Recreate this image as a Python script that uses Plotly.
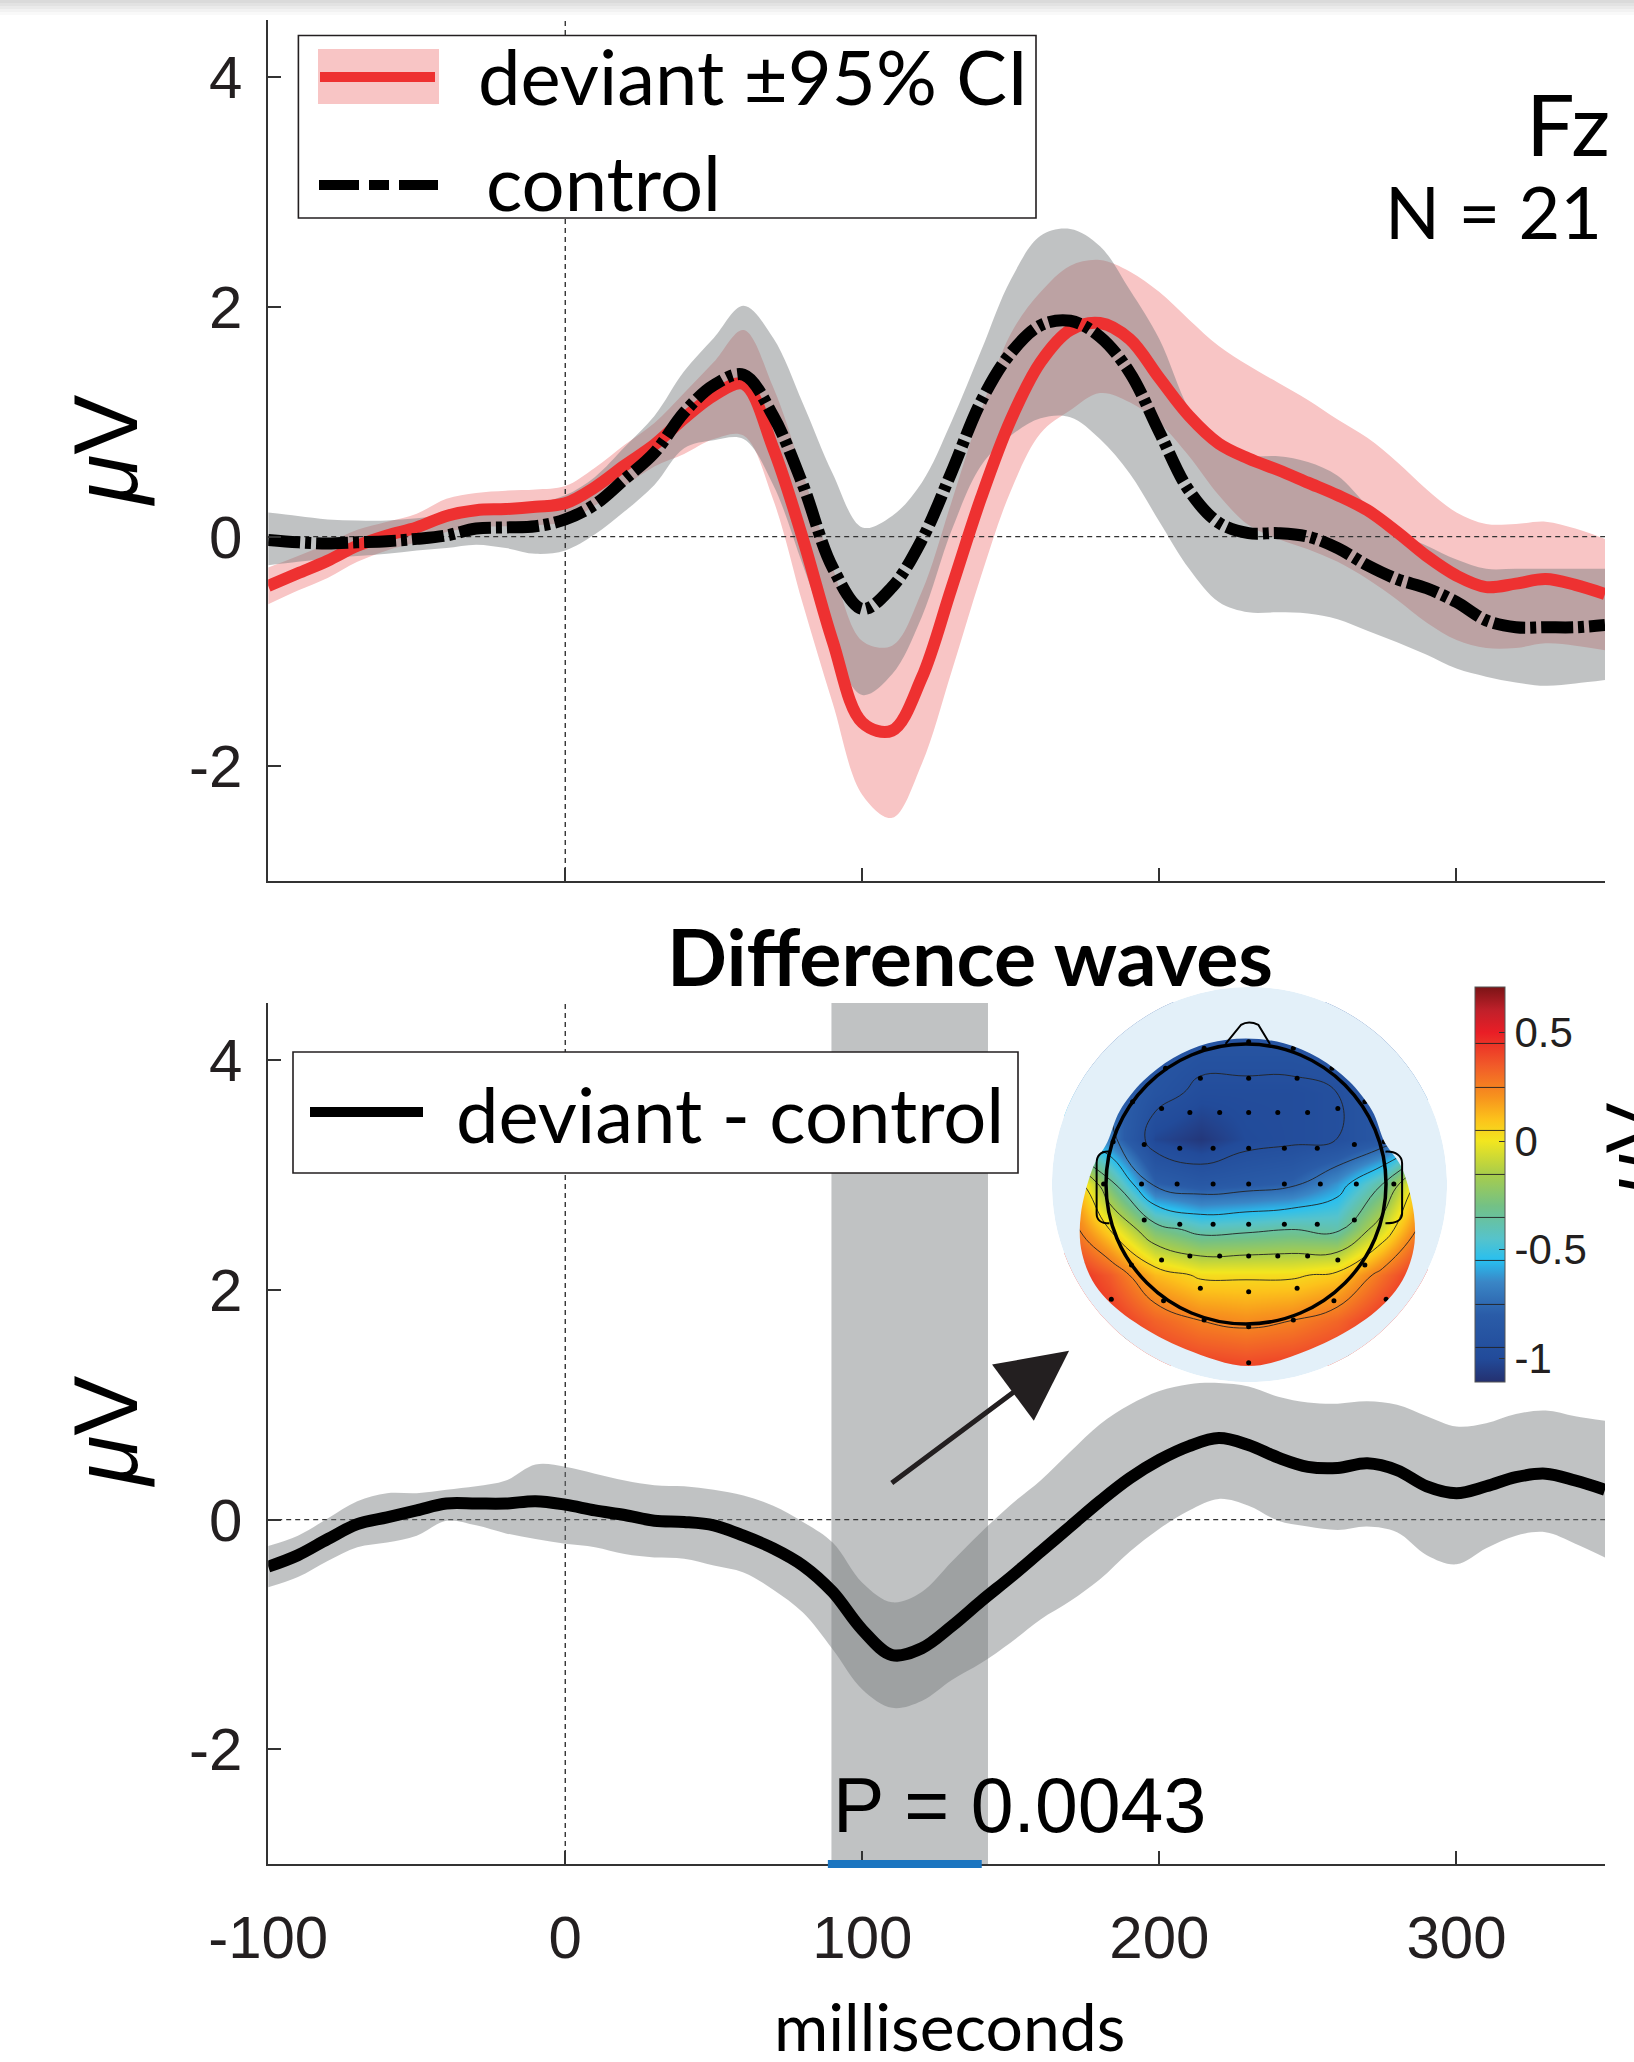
import plotly.graph_objects as go

W, H = 1634, 2062

# ---------------- data ----------------
t_ms = [-100, -90, -80, -70, -60, -50, -40, -30, -20, -10,
        0, 10, 20, 30, 40, 50, 60, 70, 80, 90,
        100, 110, 120, 130, 140, 150, 160, 170, 180, 190,
        200, 210, 220, 230, 240, 250, 260, 270, 280, 290,
        300, 310, 320, 330, 340, 350]

deviant_mean = [-0.43, -0.32, -0.21, -0.08, 0.01, 0.08, 0.18, 0.23, 0.24, 0.26,
                0.29, 0.43, 0.62, 0.80, 1.03, 1.23, 1.33, 0.77, -0.02, -0.91,
                -1.62, -1.69, -1.23, -0.45, 0.34, 1.02, 1.52, 1.80, 1.86, 1.72,
                1.38, 1.05, 0.81, 0.68, 0.58, 0.47, 0.36, 0.23, 0.04, -0.17,
                -0.34, -0.44, -0.41, -0.37, -0.42, -0.50]
deviant_upper = [-0.27, -0.17, -0.06, 0.06, 0.13, 0.20, 0.33, 0.38, 0.40, 0.41,
                 0.44, 0.60, 0.80, 0.99, 1.25, 1.52, 1.80, 1.30, 0.55, -0.27,
                 -0.91, -0.95, -0.48, 0.30, 1.10, 1.77, 2.13, 2.36, 2.41, 2.31,
                 2.13, 1.89, 1.66, 1.49, 1.34, 1.19, 1.02, 0.86, 0.65, 0.41,
                 0.21, 0.11, 0.11, 0.13, 0.07, -0.02]
deviant_lower = [-0.59, -0.47, -0.36, -0.22, -0.12, -0.05, 0.04, 0.08, 0.09, 0.10,
                 0.13, 0.27, 0.44, 0.61, 0.72, 0.85, 0.88, 0.32, -0.59, -1.45,
                 -2.25, -2.45, -1.98, -1.18, -0.34, 0.40, 0.90, 1.10, 1.25, 1.17,
                 0.99, 0.70, 0.36, 0.10, -0.02, -0.11, -0.22, -0.37, -0.55, -0.75,
                 -0.90, -0.97, -0.97, -0.93, -0.95, -0.99]

control_mean = [-0.03, -0.05, -0.06, -0.05, -0.04, -0.02, 0.01, 0.07, 0.08, 0.09,
                0.15, 0.28, 0.50, 0.73, 1.08, 1.32, 1.41, 1.05, 0.45, -0.27,
                -0.63, -0.44, -0.03, 0.56, 1.18, 1.60, 1.84, 1.88, 1.74, 1.43,
                0.91, 0.40, 0.12, 0.03, 0.03, 0.00, -0.10, -0.25, -0.37, -0.45,
                -0.57, -0.73, -0.79, -0.79, -0.79, -0.77]
control_upper = [0.21, 0.18, 0.15, 0.14, 0.14, 0.16, 0.19, 0.24, 0.27, 0.29,
                 0.36, 0.52, 0.78, 1.05, 1.44, 1.73, 2.01, 1.73, 1.16, 0.55,
                 0.08, 0.18, 0.47, 1.00, 1.62, 2.24, 2.62, 2.68, 2.53, 2.15,
                 1.72, 1.11, 0.76, 0.70, 0.70, 0.65, 0.53, 0.27, 0.04, -0.08,
                 -0.20, -0.28, -0.28, -0.28, -0.28, -0.28]
control_lower = [-0.25, -0.22, -0.19, -0.17, -0.15, -0.12, -0.10, -0.07, -0.10, -0.15,
                 -0.12, 0.02, 0.22, 0.45, 0.77, 0.84, 0.85, 0.45, -0.25, -0.95,
                 -1.38, -1.20, -0.70, 0.05, 0.62, 0.88, 1.03, 1.04, 0.85, 0.55,
                 0.13, -0.28, -0.57, -0.66, -0.66, -0.67, -0.72, -0.82, -0.92, -1.03,
                 -1.15, -1.22, -1.27, -1.30, -1.28, -1.25]

diff_mean = [-0.41, -0.31, -0.17, -0.04, 0.02, 0.08, 0.14, 0.14, 0.14, 0.16,
             0.13, 0.08, 0.04, -0.01, -0.02, -0.05, -0.14, -0.25, -0.40, -0.63,
             -0.96, -1.18, -1.12, -0.93, -0.71, -0.50, -0.28, -0.06, 0.16, 0.36,
             0.52, 0.64, 0.71, 0.65, 0.54, 0.46, 0.45, 0.49, 0.43, 0.29,
             0.23, 0.29, 0.37, 0.40, 0.34, 0.26]
diff_upper = [-0.23, -0.14, 0.01, 0.16, 0.23, 0.23, 0.26, 0.29, 0.34, 0.48,
              0.46, 0.40, 0.34, 0.30, 0.29, 0.26, 0.21, 0.12, -0.02, -0.20,
              -0.55, -0.72, -0.63, -0.37, -0.11, 0.13, 0.34, 0.59, 0.83, 1.00,
              1.12, 1.18, 1.19, 1.16, 1.07, 1.02, 1.01, 1.03, 1.00, 0.90,
              0.81, 0.84, 0.92, 0.95, 0.90, 0.86]
diff_lower = [-0.59, -0.50, -0.36, -0.24, -0.20, -0.14, -0.01, -0.05, -0.12, -0.17,
              -0.21, -0.24, -0.30, -0.33, -0.34, -0.40, -0.46, -0.61, -0.81, -1.13,
              -1.48, -1.64, -1.58, -1.40, -1.25, -1.07, -0.87, -0.71, -0.52, -0.28,
              -0.08, 0.08, 0.18, 0.12, -0.01, -0.06, -0.09, -0.06, -0.11, -0.31,
              -0.39, -0.25, -0.14, -0.11, -0.21, -0.33]

shade_window = [89.6, 142.3]      # grey analysis window (ms)
sig_window = [88.4, 140.2]        # significant cluster (blue bar, ms)
p_label = "P = 0.0043"
arrow_from = [109.4, 0.31]        # (ms, µV)
arrow_to = [169.6, 1.47]

x_range = [-100, 350]
y_range = [-3, 4.5]
x_ticks = [-100, 0, 100, 200, 300]
x_tick_text = ["-100", "0", "100", "200", "300"]
y_ticks = [-2, 0, 2, 4]
y_tick_text = ["-2", "0", "2", "4"]

# topography (head coordinates, head radius = 1, nose up)
topo_x = [-1.3, -0.975, -0.65, -0.325, 0.0, 0.325, 0.65, 0.975, 1.3]
topo_y = [-1.3, -0.975, -0.65, -0.325, 0.0, 0.325, 0.65, 0.975, 1.3]
topo_z = [
    [0.55, 0.50, 0.45, 0.42, 0.40, 0.42, 0.45, 0.50, 0.55],      # y=-1.3
    [0.55, 0.45, 0.33, 0.25, 0.22, 0.25, 0.32, 0.45, 0.55],      # y=-0.975
    [0.50, 0.35, 0.12, 0.03, 0.03, 0.03, 0.08, 0.30, 0.50],      # y=-0.65
    [0.35, 0.05, -0.28, -0.40, -0.38, -0.35, -0.38, -0.05, 0.35],  # y=-0.325
    [0.30, -0.30, -0.78, -0.85, -0.82, -0.78, -0.62, -0.35, 0.20],  # y=0
    [-0.50, -0.70, -1.02, -1.08, -1.00, -0.98, -0.95, -0.85, -0.60],  # y=0.325
    [-0.60, -0.75, -0.90, -0.98, -0.98, -0.98, -0.95, -0.85, -0.65],  # y=0.65
    [-0.70, -0.80, -0.85, -0.90, -0.90, -0.90, -0.88, -0.82, -0.70],  # y=0.975
    [-0.70, -0.78, -0.82, -0.85, -0.85, -0.85, -0.83, -0.80, -0.70],  # y=1.3
]
topo_zmin, topo_zmax = -1.11, 0.71
cbar_ticks = [-1, -0.5, 0, 0.5]
cbar_text = ["-1", "-0.5", "0", "0.5"]

elec_x = [-0.326, 0.019, 0.365,
          -0.603, -0.401, -0.188, 0.019, 0.227, 0.44, 0.656,
          -0.727, -0.473, -0.235, 0.019, 0.274, 0.509, 0.774,
          -0.746, -0.492, -0.235, 0.019, 0.274, 0.531, 0.788,
          -0.727, -0.473, -0.235, 0.019, 0.274, 0.509, 0.774,
          -0.603, -0.401, -0.188, 0.019, 0.227, 0.44, 0.656,
          -0.326, 0.019, 0.365,
          -1.17, -0.962, -0.818, -0.589, -0.299, 0.019, 0.338, 0.628, 0.849, 1.001, 1.209, 0.019,
          -0.299, 0.019, 0.338, -0.575, 0.614, -0.81, 0.849, -0.949, 0.987, -1.017, 1.056]
elec_y = [0.755, 0.755, 0.755,
          0.54, 0.51, 0.51, 0.51, 0.51, 0.51, 0.54,
          0.283, 0.255, 0.255, 0.255, 0.255, 0.255, 0.283,
          0.0, 0.0, 0.0, 0.0, 0.0, 0.0, 0.0,
          -0.257, -0.288, -0.288, -0.288, -0.288, -0.288, -0.257,
          -0.543, -0.514, -0.514, -0.514, -0.514, -0.514, -0.543,
          -0.745, -0.769, -0.745,
          -0.571, -0.824, -0.579, -0.834, -0.971, -1.019, -0.971, -0.834, -0.579, -0.824, -0.571, -1.276,
          0.969, 1.016, 0.969, 0.826, 0.826, 0.588, 0.588, 0.302, 0.302, 0.0, 0.0]

# ---------------- styling helpers ----------------
MYR = "Lato, 'Open Sans', sans-serif"
HELV = "'Liberation Sans', Arial, sans-serif"
INK = "#231f20"
RED = "#ee3131"
PINK = "#f8c5c5"
GREY = "rgba(118,122,125,0.46)"
LW = 12


def px(x):
    return x / W


def py(y):
    return 1 - y / H


def circle_path(cx, cy, r):
    k = 0.5523 * r
    return (f"M{cx + r},{cy} C{cx + r},{cy + k} {cx + k},{cy + r} {cx},{cy + r} "
            f"C{cx - k},{cy + r} {cx - r},{cy + k} {cx - r},{cy} "
            f"C{cx - r},{cy - k} {cx - k},{cy - r} {cx},{cy - r} "
            f"C{cx + k},{cy - r} {cx + r},{cy - k} {cx + r},{cy} Z ")


def smooth_closed(pts):
    n = len(pts)
    s = ""
    for i in range(n):
        p0, p1, p2, p3 = pts[i - 1], pts[i], pts[(i + 1) % n], pts[(i + 2) % n]
        c1 = (p1[0] + (p2[0] - p0[0]) / 6, p1[1] + (p2[1] - p0[1]) / 6)
        c2 = (p2[0] - (p3[0] - p1[0]) / 6, p2[1] - (p3[1] - p1[1]) / 6)
        if i == 0:
            s += f"M{p1[0]:.4f},{p1[1]:.4f} "
        s += f"C{c1[0]:.4f},{c1[1]:.4f} {c2[0]:.4f},{c2[1]:.4f} {p2[0]:.4f},{p2[1]:.4f} "
    return s + "Z "


fig = go.Figure()

# ---------------- top panel ----------------
fig.add_trace(go.Scatter(x=t_ms, y=deviant_lower, mode="lines", line=dict(width=0, shape="spline"),
                         xaxis="x", yaxis="y", showlegend=False, hoverinfo="skip"))
fig.add_trace(go.Scatter(x=t_ms, y=deviant_upper, mode="lines", line=dict(width=0, shape="spline"),
                         fill="tonexty", fillcolor=PINK, xaxis="x", yaxis="y", showlegend=False,
                         hoverinfo="skip"))
fig.add_trace(go.Scatter(x=t_ms, y=control_lower, mode="lines", line=dict(width=0, shape="spline"),
                         xaxis="x", yaxis="y", showlegend=False, hoverinfo="skip"))
fig.add_trace(go.Scatter(x=t_ms, y=control_upper, mode="lines", line=dict(width=0, shape="spline"),
                         fill="tonexty", fillcolor=GREY, xaxis="x", yaxis="y", showlegend=False,
                         hoverinfo="skip"))
for ax_x, ax_y in (("x", "y"), ("x2", "y2")):
    fig.add_trace(go.Scatter(x=x_range, y=[0, 0], mode="lines",
                             line=dict(color="#333", width=1.4, dash="5px,4px"),
                             xaxis=ax_x, yaxis=ax_y, showlegend=False, hoverinfo="skip"))
    fig.add_trace(go.Scatter(x=[0, 0], y=y_range, mode="lines",
                             line=dict(color="#333", width=1.4, dash="5px,4px"),
                             xaxis=ax_x, yaxis=ax_y, showlegend=False, hoverinfo="skip"))
fig.add_trace(go.Scatter(x=t_ms, y=deviant_mean, mode="lines",
                         line=dict(color=RED, width=LW, shape="spline"),
                         xaxis="x", yaxis="y", showlegend=False))
fig.add_trace(go.Scatter(x=t_ms, y=control_mean, mode="lines",
                         line=dict(color="black", width=LW, shape="spline", dash="32px,5px,6px,5px"),
                         xaxis="x", yaxis="y", showlegend=False))

# ---------------- bottom panel ----------------
fig.add_trace(go.Scatter(x=t_ms, y=diff_lower, mode="lines", line=dict(width=0, shape="spline"),
                         xaxis="x2", yaxis="y2", showlegend=False, hoverinfo="skip"))
fig.add_trace(go.Scatter(x=t_ms, y=diff_upper, mode="lines", line=dict(width=0, shape="spline"),
                         fill="tonexty", fillcolor=GREY, xaxis="x2", yaxis="y2", showlegend=False,
                         hoverinfo="skip"))
fig.add_trace(go.Scatter(x=t_ms, y=diff_mean, mode="lines",
                         line=dict(color="black", width=LW, shape="spline"),
                         xaxis="x2", yaxis="y2", showlegend=False))

fig.add_shape(type="rect", xref="x2", yref="y2 domain", x0=shade_window[0], x1=shade_window[1],
              y0=0, y1=1, fillcolor=GREY, line=dict(width=0), layer="below")
fig.add_shape(type="line", xref="x2", yref="y2 domain", x0=sig_window[0], x1=sig_window[1],
              y0=0, y1=0, line=dict(color="#1b75c0", width=8), layer="above")

fig.add_annotation(x=arrow_to[0], y=arrow_to[1], ax=arrow_from[0], ay=arrow_from[1],
                   xref="x2", yref="y2", axref="x2", ayref="y2", text="", showarrow=True,
                   arrowhead=2, arrowwidth=5, arrowsize=2.8, arrowcolor=INK)

# ---------------- topography ----------------
fig.add_trace(go.Contour(
    x=topo_x, y=topo_y, z=topo_z, xaxis="x3", yaxis="y3",
    zmin=topo_zmin, zmax=topo_zmax, zauto=False,
    colorscale=[[0.0, "#24306f"], [0.06, "#224b9a"], [0.17, "#2a5ca8"], [0.253, "#3a86c6"],
                [0.308, "#28bff0"], [0.363, "#56c3cb"], [0.445, "#73c186"], [0.527, "#a9cd4a"],
                [0.61, "#f2e61f"], [0.665, "#fcc21b"], [0.72, "#f7941d"], [0.802, "#f15a29"],
                [0.885, "#e91e26"], [0.94, "#c1202a"], [1.0, "#7b1416"]],
    autocontour=False,
    contours=dict(start=-0.95, end=0.45, size=0.2, coloring="heatmap"),
    line=dict(color="#222", width=0.9, smoothing=1.3),
    showscale=True,
    colorbar=dict(x=px(1475), xanchor="left", xpad=0, y=py(987), yanchor="top", ypad=0,
                  len=395 / H, lenmode="fraction", thickness=30, thicknessmode="pixels",
                  outlinewidth=1, outlinecolor="#555",
                  tickvals=cbar_ticks, ticktext=cbar_text, ticks="inside", ticklen=6,
                  tickcolor="#333", tickfont=dict(family=HELV, size=42, color=INK)),
    hoverinfo="skip"))
fig.add_trace(go.Scatter(x=elec_x, y=elec_y, mode="markers", xaxis="x3", yaxis="y3",
                         marker=dict(color="black", size=5), showlegend=False, hoverinfo="skip"))

outline_pts = [(-0.99, 0.30), (-0.90, 0.525), (-0.735, 0.735), (-0.52, 0.90), (-0.27, 1.005),
               (0.0, 1.04), (0.27, 1.005), (0.52, 0.90), (0.735, 0.735), (0.90, 0.525),
               (0.99, 0.30), (1.12, 0.10), (1.20, -0.22), (1.19, -0.50), (1.07, -0.76),
               (0.82, -0.99), (0.46, -1.18), (0.02, -1.30), (-0.43, -1.18), (-0.79, -0.99),
               (-1.05, -0.76), (-1.17, -0.50), (-1.18, -0.22), (-1.10, 0.10)]
bg_c = (0.025, -0.004)
bg_r = 1.411
fig.add_shape(type="path", xref="x3", yref="y3",
              path=circle_path(bg_c[0], bg_c[1], bg_r) + smooth_closed(outline_pts),
              fillcolor="#e3f0f9", fillrule="evenodd", line=dict(width=0), layer="above")
fig.add_shape(type="path", xref="x3", yref="y3",
              path="M-2,-2 L2,-2 L2,2 L-2,2 Z " + circle_path(bg_c[0], bg_c[1], bg_r),
              fillcolor="white", fillrule="evenodd", line=dict(width=0), layer="above")
fig.add_shape(type="path", xref="x3", yref="y3", path=circle_path(0, 0, 1.0),
              line=dict(color="black", width=3.5), layer="above")
fig.add_shape(type="path", xref="x3", yref="y3",
              path="M-0.976,0.231 C-1.04,0.235 -1.067,0.2 -1.067,0.148 L-1.067,-0.209 "
                   "C-1.067,-0.26 -1.04,-0.281 -0.975,-0.281",
              line=dict(color="black", width=2), layer="above")
fig.add_shape(type="path", xref="x3", yref="y3",
              path="M0.996,0.231 C1.07,0.235 1.115,0.2 1.115,0.148 L1.115,-0.209 "
                   "C1.115,-0.26 1.08,-0.281 0.996,-0.281",
              line=dict(color="black", width=2), layer="above")
fig.add_shape(type="path", xref="x3", yref="y3",
              path="M-0.146,1.0 L-0.036,1.136 Q0.019,1.17 0.089,1.136 L0.171,1.0",
              line=dict(color="black", width=2), layer="above")

# ---------------- legends (drawn boxes) ----------------
fig.add_shape(type="rect", xref="paper", yref="paper", x0=px(298.4), x1=px(1036),
              y0=py(218), y1=py(35.5), fillcolor="white", line=dict(color=INK, width=1.6),
              layer="above")
fig.add_shape(type="rect", xref="paper", yref="paper", x0=px(318), x1=px(439), y0=py(104), y1=py(49),
              fillcolor=PINK, line=dict(width=0), layer="above")
fig.add_shape(type="line", xref="paper", yref="paper", x0=px(320), x1=px(435), y0=py(77), y1=py(77),
              line=dict(color=RED, width=10), layer="above")
fig.add_shape(type="line", xref="paper", yref="paper", x0=px(319), x1=px(438), y0=py(185), y1=py(185),
              line=dict(color="black", width=10, dash="40px,10px,20px,10px"), layer="above")

fig.add_shape(type="rect", xref="paper", yref="paper", x0=px(293), x1=px(1018),
              y0=py(1173), y1=py(1052), fillcolor="white", line=dict(color=INK, width=1.6),
              layer="above")
fig.add_shape(type="line", xref="paper", yref="paper", x0=px(310), x1=px(423), y0=py(1112), y1=py(1112),
              line=dict(color="black", width=10), layer="above")

# faint shadow strip at the very top
for i, c in enumerate(["#dadada", "#e2e2e2", "#eaeaea", "#f2f2f2", "#f9f9f9"]):
    fig.add_shape(type="rect", xref="paper", yref="paper", x0=0, x1=1,
                  y0=py(3 * (i + 1)), y1=py(3 * i), fillcolor=c, line=dict(width=0), layer="above")


def text(x, y, s, size, family=MYR, xanchor="left", angle=0, bold=False):
    fig.add_annotation(x=px(x), y=py(y), xref="paper", yref="paper", text=(f"<b>{s}</b>" if bold else s),
                       showarrow=False, xanchor=xanchor, yanchor="middle", textangle=angle,
                       font=dict(family=family, size=size, color="black"))


text(476, 75, "deviant ±95% CI", 76)
text(484, 181, "control", 76)
text(1612, 122, "Fz", 86, xanchor="right")
text(1604, 211, "N = 21", 72, xanchor="right")
text(970, 956, "Difference waves", 79, xanchor="center", bold=True)
text(454, 1113, "deviant - control", 76)
text(831, 1805, p_label, 77, family=HELV)
text(949, 2025, "milliseconds", 66, xanchor="center")
text(106, 451, "<i>μ</i>V", 90, family=HELV, xanchor="center", angle=-90)
text(106, 1432, "<i>μ</i>V", 90, family=HELV, xanchor="center", angle=-90)
text(1632, 1150, "<i>μ</i>V", 76, family=HELV, xanchor="center", angle=-90)

# ---------------- axes ----------------
axis_common = dict(showline=True, linecolor="#333", linewidth=1.5, ticks="inside", ticklen=13,
                   tickwidth=1.5, tickcolor="#333", showgrid=False, zeroline=False, fixedrange=True,
                   tickfont=dict(family=HELV, size=60, color=INK))
fig.update_layout(
    width=W, height=H, margin=dict(l=0, r=0, t=0, b=0, autoexpand=False),
    paper_bgcolor="white", plot_bgcolor="rgba(0,0,0,0)", showlegend=False,
    xaxis=dict(domain=[px(268.2), px(1605)], range=x_range, anchor="y", tickvals=x_ticks,
               showticklabels=False, **axis_common),
    yaxis=dict(domain=[py(881), py(20)], range=y_range, anchor="x", tickvals=y_ticks,
               ticktext=y_tick_text, ticklabelstandoff=12, **axis_common),
    xaxis2=dict(domain=[px(268.2), px(1605)], range=x_range, anchor="y2", tickvals=x_ticks,
                ticktext=x_tick_text, ticklabelstandoff=20, **axis_common),
    yaxis2=dict(domain=[py(1864), py(1003)], range=y_range, anchor="x2", tickvals=y_ticks,
                ticktext=y_tick_text, ticklabelstandoff=12, **axis_common),
    xaxis3=dict(domain=[px(1052), px(1447)], range=[-1.3857, 1.4357], anchor="y3", visible=False,
                fixedrange=True),
    yaxis3=dict(domain=[py(1382), py(987)], range=[-1.4143, 1.4071], anchor="x3", visible=False,
                fixedrange=True),
)

fig.write_html("out.html")
